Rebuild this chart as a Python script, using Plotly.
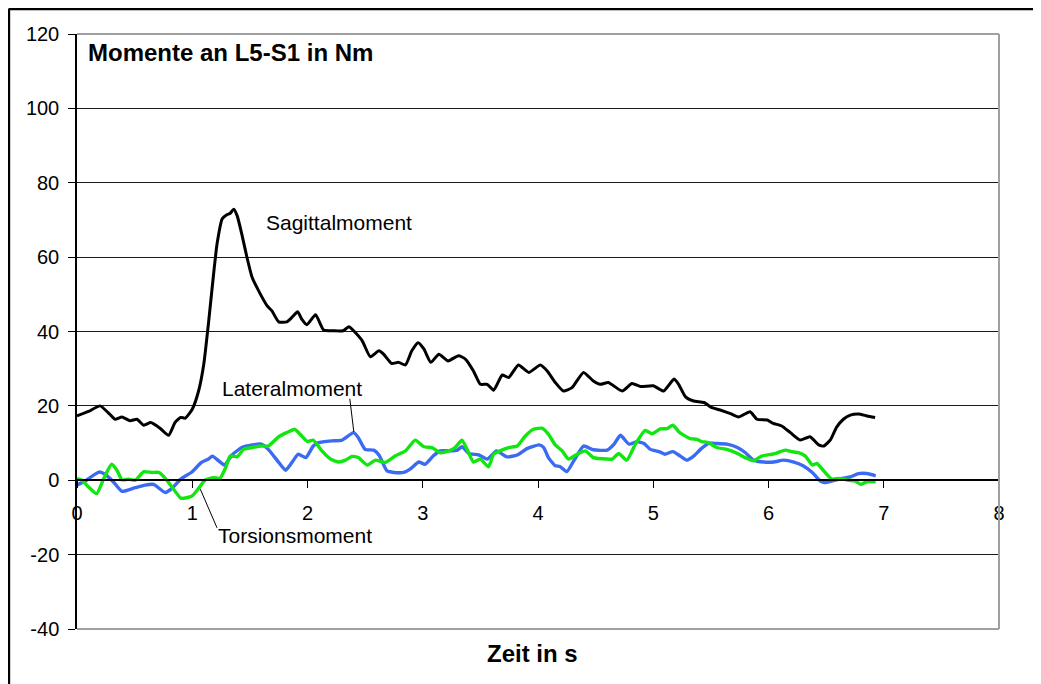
import plotly.graph_objects as go

# Sagittalmoment (black)
sag_t = [0, 0.1, 0.2, 0.27, 0.33, 0.39, 0.46, 0.52, 0.58, 0.64,
         0.72, 0.795, 0.85, 0.9, 0.94, 1.0, 1.055, 1.1, 1.14, 1.185,
         1.215, 1.26, 1.30, 1.33, 1.36, 1.39, 1.43, 1.475, 1.52, 1.575,
         1.65, 1.69, 1.75, 1.82, 1.865, 1.915, 1.95, 1.995, 2.07, 2.14,
         2.225, 2.31, 2.36, 2.40, 2.475, 2.545, 2.62, 2.66, 2.73, 2.79,
         2.85, 2.905, 2.96, 3.01, 3.07, 3.14, 3.22, 3.31, 3.37, 3.44,
         3.5, 3.56, 3.615, 3.69, 3.745, 3.83, 3.92, 4.02, 4.08, 4.15,
         4.22, 4.295, 4.395, 4.48, 4.54, 4.61, 4.73, 4.815, 4.89, 5.0,
         5.09, 5.18, 5.22, 5.28, 5.35, 5.44, 5.51, 5.58, 5.67, 5.74,
         5.84, 5.9, 5.99, 6.04, 6.115, 6.19, 6.275, 6.36, 6.435, 6.48,
         6.54, 6.59, 6.65, 6.71, 6.78, 6.855, 6.925]
sag_v = [17.3, 18.5, 20.0, 18.2, 16.4, 17.0, 16.0, 16.4, 14.8, 15.5,
         14.0, 12.1, 15.5, 16.9, 16.7, 19.1, 24, 31.2, 42, 55.4,
         63.5, 70.3, 71.4, 71.8, 72.9, 71.1, 66.2, 59.9, 54.5, 51,
         46.9, 45.6, 42.6, 42.6, 43.8, 45.3, 43.3, 41.8, 44.5, 40.4,
         40.2, 40.2, 41.3, 40.2, 37.5, 33.2, 34.8, 33.9, 31.4, 31.7,
         31.0, 34.8, 37.0, 35.3, 31.7, 33.9, 32.1, 33.5, 32.6, 29.4,
         25.8, 25.8, 24.2, 28.3, 27.6, 31.0, 29.0, 31.0, 29.4, 26.3,
         24.0, 24.9, 29.0, 26.7, 25.8, 26.3, 24.0, 26.0, 25.2, 25.4,
         24.0, 27.2, 25.8, 22.4, 21.3, 20.9, 19.5, 18.9, 17.9, 17.0,
         18.4, 16.4, 16.2, 15.3, 14.6, 12.8, 10.8, 11.7, 9.5, 9.2,
         11.0, 14.2, 16.4, 17.5, 17.8, 17.3, 16.9]

# Lateralmoment (blue)
lat_t = [0, 0.07, 0.19, 0.245, 0.32, 0.39, 0.505, 0.59, 0.665, 0.766,
         0.824, 0.9, 1.0, 1.08, 1.14, 1.175, 1.23, 1.28, 1.345, 1.43,
         1.52, 1.6, 1.66, 1.75, 1.81, 1.865, 1.92, 1.985, 2.05, 2.095,
         2.21, 2.3, 2.4, 2.44, 2.5, 2.575, 2.62, 2.69, 2.75, 2.835,
         2.89, 2.965, 3.02, 3.09, 3.15, 3.24, 3.3, 3.34, 3.4, 3.485,
         3.56, 3.64, 3.73, 3.82, 3.905, 4.01, 4.05, 4.09, 4.15, 4.19,
         4.25, 4.31, 4.395, 4.48, 4.6, 4.66, 4.715, 4.79, 4.86, 4.92,
         4.975, 5.05, 5.1, 5.17, 5.235, 5.29, 5.35, 5.41, 5.48, 5.55,
         5.64, 5.73, 5.8, 5.87, 5.96, 6.045, 6.13, 6.22, 6.3, 6.38,
         6.45, 6.49, 6.55, 6.64, 6.71, 6.78, 6.855, 6.93]
lat_v = [-1.3, -0.2, 2.2, 1.6, -0.6, -3.0, -2.0, -1.3, -1.1, -3.3,
         -2.2, 0.3, 2.3, 4.8, 5.7, 6.5, 5.2, 4.1, 6.8, 8.8,
         9.5, 9.7, 8.3, 4.8, 2.7, 4.8, 7.0, 6.1, 9.2, 10.1,
         10.6, 10.8, 12.8, 11.5, 8.3, 8.1, 6.8, 2.5, 2.1, 2.1,
         3.0, 4.9, 4.3, 6.5, 7.9, 7.9, 8.1, 9.0, 7.2, 6.8,
         5.7, 7.9, 6.3, 6.8, 8.5, 9.5, 8.8, 6.1, 3.9, 3.7,
         2.3, 5.2, 9.2, 8.2, 8.1, 9.7, 12.1, 9.7, 10.4, 9.9,
         8.3, 7.7, 7.0, 7.7, 6.5, 5.4, 6.5, 8.3, 9.9, 9.9,
         9.7, 8.8, 7.4, 5.4, 4.9, 4.9, 5.4, 4.9, 3.9, 2.1,
         -0.2, -0.6, -0.2, 0.5, 0.9, 1.8, 1.8, 1.2]

# Torsionsmoment (green)
tor_t = [0, 0.043, 0.1, 0.17, 0.23, 0.3, 0.35, 0.39, 0.45, 0.505,
         0.58, 0.65, 0.71, 0.766, 0.824, 0.9, 0.95, 1.0, 1.055, 1.11,
         1.185, 1.24, 1.29, 1.33, 1.39, 1.445, 1.52, 1.6, 1.66, 1.75,
         1.82, 1.89, 1.95, 2.0, 2.05, 2.125, 2.2, 2.27, 2.33, 2.385,
         2.44, 2.52, 2.59, 2.675, 2.76, 2.85, 2.935, 3.01, 3.08, 3.15,
         3.225, 3.28, 3.34, 3.385, 3.44, 3.5, 3.57, 3.615, 3.67, 3.745,
         3.82, 3.89, 3.96, 4.035, 4.09, 4.15, 4.21, 4.265, 4.34, 4.41,
         4.48, 4.6, 4.645, 4.7, 4.77, 4.845, 4.93, 4.99, 5.06, 5.12,
         5.17, 5.23, 5.32, 5.38, 5.42, 5.48, 5.55, 5.64, 5.73, 5.81,
         5.87, 5.94, 6.03, 6.07, 6.145, 6.2, 6.26, 6.32, 6.38, 6.42,
         6.48, 6.55, 6.62, 6.695, 6.75, 6.8, 6.855, 6.93]
tor_v = [0.4, 0, -1.8, -3.6, 0.3, 4.3, 2.5, 0.1, 0.3, 0,
         2.3, 2.1, 2.1, 0.5, -1.8, -4.8, -4.7, -4.2, -2.2, 0,
         0.7, 0.5, 3.4, 6.5, 6.3, 8.3, 8.8, 9.2, 9.2, 11.7,
         12.8, 13.7, 11.9, 10.4, 10.8, 7.9, 5.7, 4.9, 5.4, 6.4,
         6.1, 4.1, 5.4, 4.8, 6.5, 7.9, 10.8, 9.0, 8.8, 7.4,
         7.9, 8.8, 10.8, 8.3, 4.9, 5.7, 3.6, 7.0, 7.9, 8.8,
         9.2, 11.9, 13.7, 14.0, 12.4, 9.5, 7.9, 5.7, 7.0, 7.9,
         6.1, 5.7, 5.7, 7.2, 5.4, 9.7, 13.4, 12.5, 13.8, 13.9,
         14.8, 12.8, 11.2, 11.0, 10.4, 10.1, 8.8, 8.3, 7.2, 5.9,
         5.2, 6.5, 7.0, 7.3, 8.1, 7.7, 7.4, 6.5, 4.1, 4.5,
         2.5, 0.3, 0.5, 0, -0.2, -1.1, -0.4, -0.4]

x_ticks = [0, 1, 2, 3, 4, 5, 6, 7, 8]
y_ticks = [-40, -20, 0, 20, 40, 60, 80, 100, 120]

FONT = "Arial, 'Liberation Sans', sans-serif"

fig = go.Figure()
fig.add_trace(go.Scatter(x=sag_t, y=sag_v, mode="lines", name="Sagittalmoment",
                         line=dict(color="#000000", width=3, shape="spline", smoothing=0.5)))
fig.add_trace(go.Scatter(x=lat_t, y=lat_v, mode="lines", name="Lateralmoment",
                         line=dict(color="#3A6BF2", width=3.4, shape="spline", smoothing=0.5)))
fig.add_trace(go.Scatter(x=tor_t, y=tor_v, mode="lines", name="Torsionsmoment",
                         line=dict(color="#11E611", width=3.4, shape="spline", smoothing=0.5)))

# gray plot-area border on top, right and bottom
border = dict(color="#A0A0A0", width=2)
fig.add_shape(type="line", xref="paper", yref="paper", x0=0, x1=1, y0=1, y1=1, line=border)
fig.add_shape(type="line", xref="paper", yref="paper", x0=1, x1=1, y0=0, y1=1, line=border)
fig.add_shape(type="line", xref="paper", yref="paper", x0=0, x1=1, y0=0, y1=0, line=border)

# outer black frame (only top and left fall inside the picture)
frame = dict(color="#000000", width=3)
fig.add_shape(type="line", xref="paper", yref="paper", x0=-0.0741, x1=1.046, y0=1.0425, y1=1.0425, line=frame)
fig.add_shape(type="line", xref="paper", yref="paper", x0=-0.0741, x1=-0.0741, y0=1.0425, y1=-0.093, line=frame)

# leader lines
fig.add_shape(type="line", x0=2.367, y0=21.9, x1=2.402, y1=13.0, line=dict(color="#000", width=1))
fig.add_shape(type="line", x0=1.07, y0=-2.4, x1=1.215, y1=-12.8, line=dict(color="#000", width=1))

fig.add_annotation(text="<b>Momente an L5-S1 in Nm</b>", xref="paper", x=0.0098, y=115.0,
                   xanchor="left", yanchor="middle", showarrow=False,
                   font=dict(family=FONT, size=24, color="#000"))
fig.add_annotation(text="Sagittalmoment", x=2.276, y=69.3, showarrow=False,
                   font=dict(family=FONT, size=21, color="#000"))
fig.add_annotation(text="Lateralmoment", x=(292 - 76.7) / 115.25, y=(479.3 - 388) / 3.715,
                   showarrow=False, font=dict(family=FONT, size=21, color="#000"))
fig.add_annotation(text="Torsionsmoment", x=(294.7 - 76.7) / 115.25, y=(479.3 - 534) / 3.715,
                   showarrow=False, font=dict(family=FONT, size=21, color="#000"))
fig.add_annotation(text="<b>Zeit in s</b>", xref="paper", yref="paper",
                   x=(532.3 - 76.7) / 922, y=-(653 - 628.7) / 595, yanchor="middle",
                   showarrow=False, font=dict(family=FONT, size=24, color="#000"))

# the page body adds an 8 px margin, so the figure is 8 px smaller each way
fig.update_layout(
    width=1033, height=676,
    margin=dict(l=69, r=42, t=26, b=55),
    paper_bgcolor="white", plot_bgcolor="white",
    showlegend=False,
    font=dict(family=FONT, size=20, color="#000"),
    xaxis=dict(range=[0, 8], tickvals=x_ticks, ticktext=[str(v) for v in x_ticks],
               showgrid=False, zeroline=False, showline=True, linecolor="#000", linewidth=1.5,
               anchor="free", position=0.25, ticks="outside", ticklen=7, tickcolor="#000",
               ticklabelstandoff=8, tickfont=dict(size=20)),
    yaxis=dict(range=[-40, 120], tickvals=y_ticks, ticktext=[str(v) for v in y_ticks],
               showgrid=True, gridcolor="#1a1a1a", gridwidth=1, zeroline=False,
               showline=True, linecolor="#000", linewidth=1.5, ticks="outside", ticklen=7,
               tickcolor="#000", ticklabelstandoff=5, tickfont=dict(size=20)),
)

fig.write_html("out.html")
